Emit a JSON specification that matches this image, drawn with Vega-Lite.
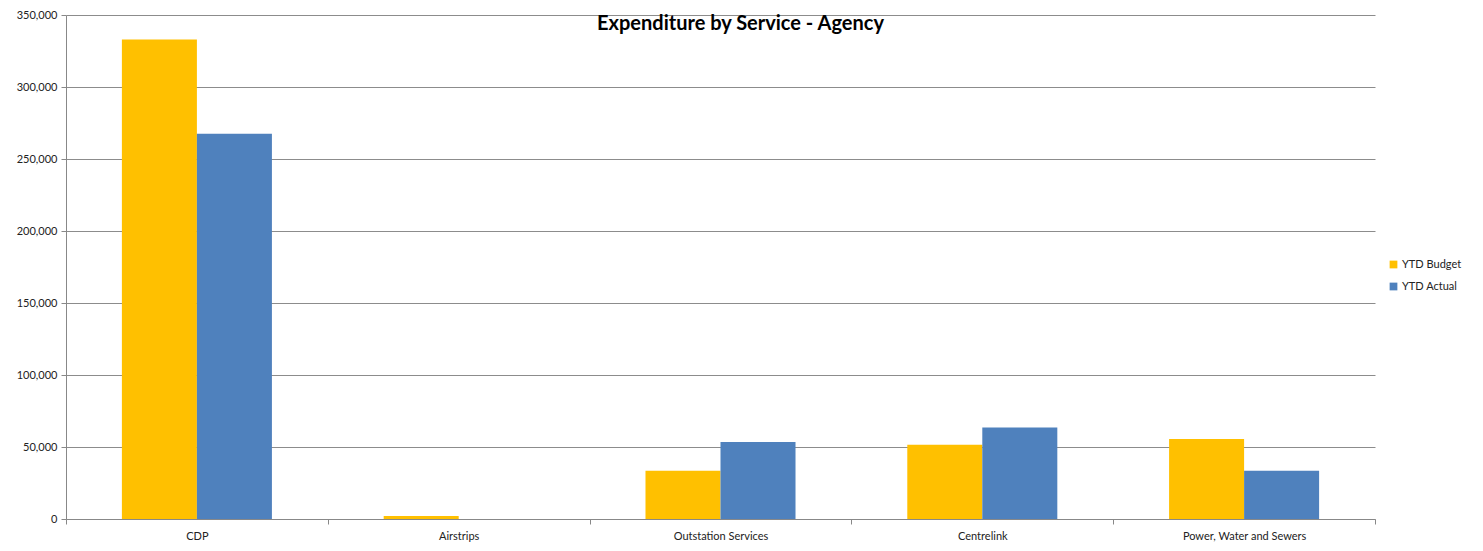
{
  "$schema": "https://vega.github.io/schema/vega-lite/v6.json",
  "autosize": {"type": "none"},
  "width": 1309,
  "height": 504,
  "padding": {"left": 66, "top": 15, "right": 108, "bottom": 32},
  "background": "white",
  "title": {
    "text": "Expenditure by Service - Agency",
    "font": "Lato",
    "fontSize": 20,
    "fontWeight": "bold",
    "color": "#000000",
    "anchor": "middle",
    "dx": 20,
    "dy": 41,
    "baseline": "alphabetic",
    "offset": 0
  },
  "data": {
    "values": [
      {"service": "CDP", "series": "YTD Budget", "value": 333000},
      {"service": "CDP", "series": "YTD Actual", "value": 267500},
      {"service": "Airstrips", "series": "YTD Budget", "value": 2000},
      {"service": "Airstrips", "series": "YTD Actual", "value": 0},
      {"service": "Outstation Services", "series": "YTD Budget", "value": 33500},
      {"service": "Outstation Services", "series": "YTD Actual", "value": 53500},
      {"service": "Centrelink", "series": "YTD Budget", "value": 51500},
      {"service": "Centrelink", "series": "YTD Actual", "value": 63500},
      {"service": "Power, Water and Sewers", "series": "YTD Budget", "value": 55500},
      {"service": "Power, Water and Sewers", "series": "YTD Actual", "value": 33500}
    ]
  },
  "mark": {"type": "bar"},
  "encoding": {
    "x": {
      "field": "service",
      "type": "nominal",
      "sort": ["CDP", "Airstrips", "Outstation Services", "Centrelink", "Power, Water and Sewers"],
      "scale": {"paddingInner": 0, "paddingOuter": 0},
      "axis": {
        "title": null,
        "labelAngle": 0,
        "tickBand": "extent",
        "domainColor": "#888888",
        "tickColor": "#888888",
        "tickSize": 5,
        "labelFont": "Lato",
        "labelFontSize": 11,
        "labelColor": "#222222",
        "labelPadding": 6
      }
    },
    "xOffset": {
      "field": "series",
      "type": "nominal",
      "sort": ["YTD Budget", "YTD Actual"],
      "scale": {"paddingInner": 0, "paddingOuter": 0.745}
    },
    "y": {
      "field": "value",
      "type": "quantitative",
      "scale": {"domain": [0, 350000], "nice": false},
      "axis": {
        "title": null,
        "values": [0, 50000, 100000, 150000, 200000, 250000, 300000, 350000],
        "format": ",d",
        "gridColor": "#8c8c8c",
        "domainColor": "#888888",
        "tickColor": "#888888",
        "tickSize": 5,
        "labelFont": "Lato",
        "labelFontSize": 11,
        "labelColor": "#222222",
        "labelPadding": 4
      }
    },
    "color": {
      "field": "series",
      "type": "nominal",
      "sort": ["YTD Budget", "YTD Actual"],
      "scale": {"domain": ["YTD Budget", "YTD Actual"], "range": ["#FFC000", "#4F81BD"]},
      "legend": {
        "title": null,
        "orient": "none",
        "legendX": 1322,
        "legendY": 244,
        "symbolType": "square",
        "symbolSize": 60,
        "symbolStrokeWidth": 0,
        "labelFont": "Lato",
        "labelFontSize": 11,
        "labelColor": "#222222",
        "rowPadding": 10,
        "labelOffset": 3
      }
    }
  },
  "config": {
    "view": {"stroke": null}
  }
}
